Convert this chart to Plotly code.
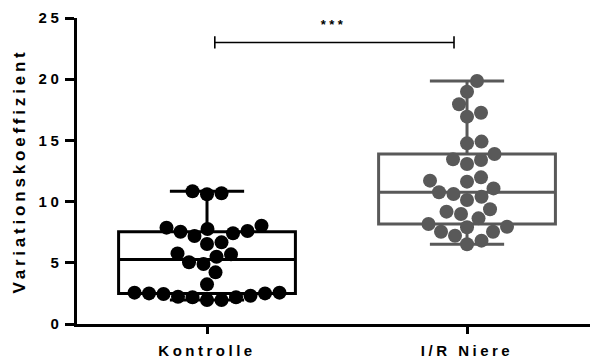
import numpy as np
import plotly.graph_objects as go

# ---- data -------------------------------------------------------------
categories = ["Kontrolle", "I/R Niere"]

kontrolle = [10.84, 10.68, 10.60,
             8.03, 7.87, 7.76, 7.60, 7.54, 7.41, 7.19,
             6.67, 6.54, 5.77, 5.69, 5.50, 5.04, 4.90, 4.22, 3.24,
             2.56, 2.56, 2.50, 2.50, 2.45, 2.31, 2.23, 2.18, 2.18, 1.96, 1.96]

ir_niere = [19.85, 18.98, 17.95, 17.26, 16.94, 14.90, 14.76,
            13.89, 13.45, 13.40, 13.07, 11.98, 11.71, 11.63, 11.08,
            10.76, 10.62, 10.40, 10.13, 9.37, 9.18, 8.99, 8.63,
            8.17, 7.95, 7.90, 7.54, 7.54, 7.21, 6.81, 6.51]

y_ticks = [0, 5, 10, 15, 20, 25]
significance = "***"

# ---- layout constants -------------------------------------------------
W, H = 590, 360
M_L, M_R, M_T, M_B = 77, 0, 18, 36
X_RANGE = [-0.5, 1.473]
Y_RANGE = [0, 25]
DOT = 14                       # marker diameter in px
BOX_W = 0.68
BRACKET_Y = 23
BRACKET_X = (0.03, 0.95)
FONT = "Liberation Sans, Arial, sans-serif"
colors = ["#000000", "#595959"]

px_x = (W - M_L - M_R) / (X_RANGE[1] - X_RANGE[0])
px_y = (H - M_T - M_B) / (Y_RANGE[1] - Y_RANGE[0])


def swarm_offsets(values, min_dist=DOT + 0.5, step=0.5):
    """Greedy beeswarm: each point is pushed sideways until it no longer
    overlaps an already placed point. Returns x offsets in data units."""
    vals = np.asarray(values, dtype=float)
    order = np.argsort(vals)
    placed = []
    offs = np.zeros(len(vals))
    for i in order:
        yp = vals[i] * px_y
        k = 0
        while True:
            dx = (k + 1) // 2 * step * (1 if k % 2 else -1)
            if all((dx - px) ** 2 + (yp - py) ** 2 >= min_dist ** 2 for px, py in placed):
                break
            k += 1
        placed.append((dx, yp))
        offs[i] = dx / px_x
    return offs


fig = go.Figure()

groups = [kontrolle, ir_niere]
for pos, (vals, col) in enumerate(zip(groups, colors)):
    fig.add_trace(go.Box(
        x=[pos] * len(vals), y=vals,
        boxpoints=False, quartilemethod="exclusive",
        line=dict(color=col, width=3),
        fillcolor="rgba(0,0,0,0)",
        width=BOX_W, whiskerwidth=0.42,
        hoverinfo="skip", showlegend=False,
    ))

for pos, (vals, col) in enumerate(zip(groups, colors)):
    fig.add_trace(go.Scatter(
        x=pos + swarm_offsets(vals), y=vals,
        mode="markers",
        marker=dict(color=col, size=DOT, line=dict(width=0)),
        showlegend=False, cliponaxis=False,
    ))

# significance bracket
x0, x1 = BRACKET_X
fig.add_shape(type="line", x0=x0, x1=x1, y0=BRACKET_Y, y1=BRACKET_Y,
              line=dict(color="black", width=1.6))
for xe in BRACKET_X:
    fig.add_shape(type="line", x0=xe, x1=xe, y0=BRACKET_Y - 0.5, y1=BRACKET_Y + 0.5,
                  line=dict(color="black", width=1.6))
fig.add_annotation(x=(x0 + x1) / 2, y=BRACKET_Y, text=significance,
                   showarrow=False, yanchor="bottom", yshift=8,
                   font=dict(family=FONT, size=13, color="black", weight="bold"))

fig.update_layout(
    width=W, height=H,
    margin=dict(l=M_L, r=M_R, t=M_T, b=M_B, pad=0),
    paper_bgcolor="white", plot_bgcolor="white",
    font=dict(family=FONT, color="black", size=15, weight="bold"),
    showlegend=False,
    xaxis=dict(
        range=X_RANGE, tickmode="array", tickvals=[0, 1], ticktext=categories,
        showline=True, linecolor="black", linewidth=2.5,
        ticks="outside", ticklen=7, tickwidth=2.5, tickcolor="black",
        showgrid=False, zeroline=False, ticklabelstandoff=4,
        tickfont=dict(family=FONT, size=15, weight="bold"),
    ),
    yaxis=dict(
        range=Y_RANGE, tickmode="array", tickvals=y_ticks,
        showline=True, linecolor="black", linewidth=2.5,
        ticks="outside", ticklen=9, tickwidth=2.5, tickcolor="black",
        showgrid=False, zeroline=False,
        tickfont=dict(family=FONT, size=15, weight="bold"),
        title=dict(text="Variationskoeffizient", standoff=16,
                   font=dict(family=FONT, size=17, weight="bold")),
    ),
)

# widen the letter spacing of all labels
post = """
var gd = document.getElementById('{plot_id}');
function spaceOut() {
  gd.querySelectorAll('.xtick text, .ytick text, .annotation-text')
    .forEach(function (t) { t.style.letterSpacing = '3.5px'; });
  gd.querySelectorAll('.g-ytitle text')
    .forEach(function (t) { t.style.letterSpacing = '3.8px'; });
}
spaceOut();
gd.on('plotly_afterplot', spaceOut);
"""

fig.write_html("out.html", post_script=post)
